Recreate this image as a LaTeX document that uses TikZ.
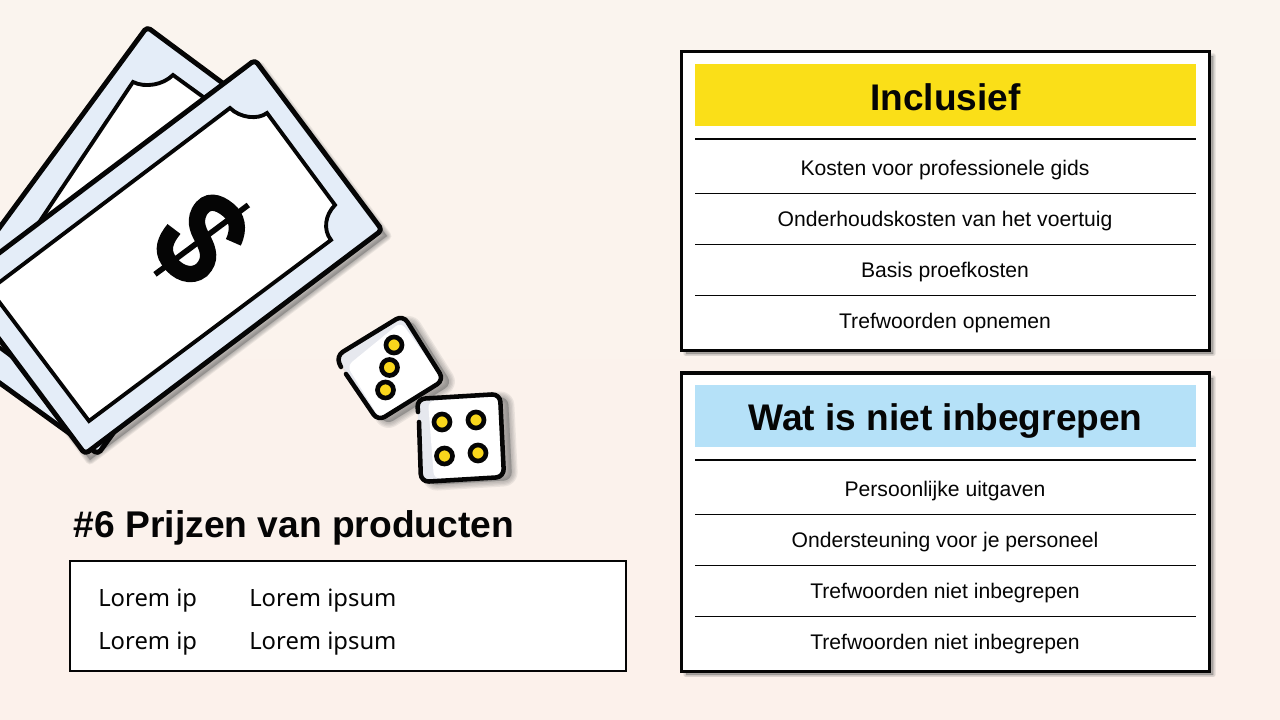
\documentclass[tikz,border=0pt]{standalone}
\usepackage{fontspec}
\setmainfont{Liberation Sans}
\newfontfamily\lorem{Noto Sans}
\definecolor{ink}{HTML}{050505}
\definecolor{billblue}{HTML}{E4EDF8}
\definecolor{dicegrey}{HTML}{E6E8EE}
\definecolor{pip}{HTML}{F9D71C}
\definecolor{hdryellow}{HTML}{FADF18}
\definecolor{hdrblue}{HTML}{B5E1F8}
\definecolor{bgA}{HTML}{FAF4EE}
\definecolor{bgB}{HTML}{FCF1EB}
\tikzset{
  outline/.style={draw=ink,line width=3.7pt,line join=round,line cap=round},
  inner/.style={draw=ink,line width=2.9pt,line join=miter,fill=white},
  softshadow/.style={fill=black!60,draw=black!60,fill opacity=.11,draw opacity=.11,line join=round},
  cardbox/.style={draw=ink,line width=2.3pt,fill=white},
  heavy/.style={draw=ink,line width=1.9pt},
  thin/.style={draw=ink,line width=.75pt},
  rowtext/.style={font=\fontsize{15.85pt}{18pt}\selectfont,text=ink,inner sep=0pt,anchor=center},
  headtext/.style={font=\fontsize{27.8pt}{30pt}\selectfont\bfseries,text=ink,inner sep=0pt,anchor=base},
  lorembody/.style={font=\lorem\fontsize{17.85pt}{20pt}\selectfont,text=ink,inner sep=0pt,anchor=base west},
  pipdot/.style={circle,draw=ink,line width=3.5pt,fill=pip,minimum size=12pt,inner sep=0pt},
}
\begin{document}
\begin{tikzpicture}[x=0.75pt,y=-0.75pt]
\clip (0,0) rectangle (1280,720);
\shade[top color=bgA,bottom color=bgB] (0,0) rectangle (1280,720);

% front bill shadow
\foreach \w in {1,2.4,3.8,5.2,6.6}{
  \path[softshadow,line width=\w pt,shift={(5,6)}] (255,60) -- (382,230) -- (85,454) -- (-42,284) -- cycle;
}
% back bill
\draw[outline,rounded corners=3pt,fill=billblue] (147,27) -- (317,153) -- (98,454) -- (-75,329) -- cycle;
\draw[inner] (173,75) .. controls (163,85) and (145,88) .. (133,82) -- (-30,325.6) -- (50,385) -- (290,160) -- cycle;

% front bill
\draw[outline,rounded corners=3pt,fill=billblue] (255,60) -- (382,230) -- (85,454) -- (-42,284) -- cycle;
\draw[inner] (230,108) .. controls (240,118) and (258,120) .. (267,113) -- (335,205)
  .. controls (325,215) and (323,230) .. (331,240) -- (89,421) -- (-40,250) -- (-20,297) -- cycle;
% dollar sign
\begin{scope}[shift={(140,185)},scale=1/3]
\draw[ink,line width=4.2pt] (45,268) -- (325,60);
\draw[ink,line width=12.2pt] (280,172) .. controls (300,130) and (290,95) .. (265,75)
  .. controls (235,50) and (200,40) .. (178,80) .. controls (160,115) and (180,145) .. (190,165)
  .. controls (205,195) and (215,225) .. (185,255) .. controls (155,280) and (110,265) .. (85,225)
  .. controls (65,195) and (75,165) .. (102,132);
\end{scope}

% die one
\foreach \w in {1,3,5,7,9}{
  \path[softshadow,line width=\w pt,rounded corners=6pt,shift={(8,4)}] (403,315) -- (444,380) -- (378,421) -- (336,356) -- cycle;
}
\fill[dicegrey,rounded corners=6pt] (403,315) -- (444,380) -- (378,421) -- (336,356) -- cycle;
\fill[white,rounded corners=5pt] (401,322) -- (443,380) -- (380,419) -- (347,366) -- cycle;
\draw[outline,line width=3.4pt,rounded corners=6pt] (346,374) -- (378,421) -- (444,380) -- (403,315) -- (336,356) -- (341,367);
\node[pipdot] (a1) at (394,345) {};
\node[pipdot] (a2) at (389.5,367.5) {};
\node[pipdot] (a3) at (385.5,390) {};

% die two
\foreach \w in {1,3,5,7,9}{
  \path[softshadow,line width=\w pt,rounded corners=6pt,shift={(8,3)}] (417,399) -- (500,394) -- (504,477) -- (421,482) -- cycle;
}
\fill[dicegrey,rounded corners=6pt] (417,399) -- (500,394) -- (504,477) -- (421,482) -- cycle;
\fill[white,rounded corners=5pt] (428,401) -- (500,396) -- (503,476) -- (434,479) -- cycle;
\draw[outline,line width=3.4pt,rounded corners=6pt] (419,422) -- (421,482) -- (504,477) -- (500,394) -- (417,399) -- (418,412);
\node[pipdot] (b1) at (442,422) {};
\node[pipdot] (b2) at (476,420) {};
\node[pipdot] (b3) at (444.5,456) {};
\node[pipdot] (b4) at (478,453) {};

% left texts
\node[font=\fontsize{27.9pt}{30pt}\selectfont\bfseries,text=ink,inner sep=0pt,anchor=base west] (title) at (73.5,537) {\#6 Prijzen van producten};
\draw[cardbox,line width=1.9pt] (70,561) rectangle (626,671);
\node[lorembody] (l1) at (98,606) {Lorem ip};
\node[lorembody] (l2) at (249,606) {Lorem ipsum};
\node[lorembody] (l3) at (98,649) {Lorem ip};
\node[lorembody] (l4) at (249,649) {Lorem ipsum};

% card shadows
\foreach \w in {.6,1.8,3,4.2}{
  \path[softshadow,line width=\w pt] (686,56) rectangle (1213,353.5);
  \path[softshadow,line width=\w pt] (686,378) rectangle (1213,674.5);
}
% card one
\draw[cardbox] (681.5,51.5) rectangle (1209.5,350.5);
\fill[hdryellow] (695,64) rectangle (1196,126);
\node[headtext] (h1) at (945.5,110.7) {Inclusief};
\draw[heavy] (695,139) -- (1196,139);
\node[rowtext] (r1) at (945,170) {Kosten voor professionele gids};
\draw[thin] (695,193.3) -- (1196,193.3);
\node[rowtext] (r2) at (945,221) {Onderhoudskosten van het voertuig};
\draw[thin] (695,244.5) -- (1196,244.5);
\node[rowtext] (r3) at (945,272) {Basis proefkosten};
\draw[thin] (695,295.5) -- (1196,295.5);
\node[rowtext] (r4) at (945,323) {Trefwoorden opnemen};

% card two
\draw[cardbox] (681.5,373) rectangle (1209.5,671.5);
\fill[hdrblue] (695,385) rectangle (1196,447);
\node[headtext] (h2) at (945.5,430) {Wat is niet inbegrepen};
\draw[heavy] (695,460) -- (1196,460);
\node[rowtext] (s1) at (945,491) {Persoonlijke uitgaven};
\draw[thin] (695,514.5) -- (1196,514.5);
\node[rowtext] (s2) at (945,542) {Ondersteuning voor je personeel};
\draw[thin] (695,565.5) -- (1196,565.5);
\node[rowtext] (s3) at (945,593) {Trefwoorden niet inbegrepen};
\draw[thin] (695,616.5) -- (1196,616.5);
\node[rowtext] (s4) at (945,644) {Trefwoorden niet inbegrepen};
\end{tikzpicture}
\end{document}
